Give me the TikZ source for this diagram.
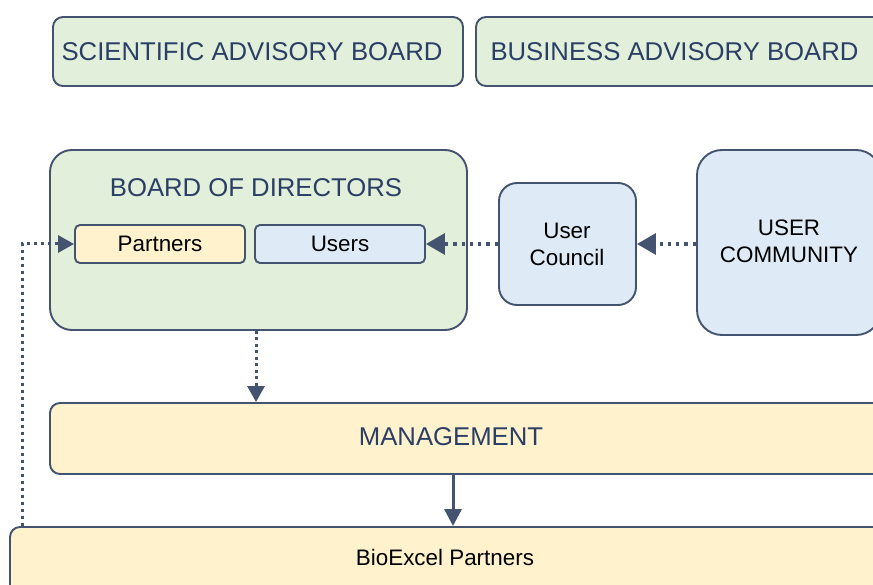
\documentclass[tikz,border=0pt]{standalone}
\usepackage{fontspec}
\setmainfont{Liberation Sans}
\usetikzlibrary{arrows.meta}
\definecolor{edge}{HTML}{44536F}
\definecolor{navy}{HTML}{2B3F66}
\definecolor{gfill}{HTML}{E2EFDA}
\definecolor{yfill}{HTML}{FFF2CC}
\definecolor{bfill}{HTML}{DEEAF6}
\tikzset{
  box/.style={draw=edge, line width=1.9pt, rectangle, inner sep=0pt},
  bigtxt/.style={text=navy, font=\fontsize{25.7}{31}\selectfont, inner sep=0pt},
  smtxt/.style={text=black, font=\fontsize{22.4}{27}\selectfont, inner sep=0pt, align=center},
  dotline/.style={draw=edge, line width=3.3pt, dash pattern=on 3.3pt off 5pt},
  dotlinesm/.style={draw=edge, line width=3pt, dash pattern=on 3pt off 4pt},
  bigtip/.style={-{Triangle[length=19pt,width=21pt]}},
  smtip/.style={-{Triangle[length=16pt,width=17pt]}},
  solidarrow/.style={draw=edge, line width=3pt, -{Triangle[length=17pt,width=17pt]}},
}
\begin{document}
\begin{tikzpicture}[x=1pt,y=-1pt]
\useasboundingbox (0,0) rectangle (873,585);
% top boards
\node[box, fill=gfill, rounded corners=10pt, minimum width=410pt, minimum height=69pt] (sab) at (258,51.5) {};
\node[bigtxt] (sabt) at (252,51.5) {SCIENTIFIC ADVISORY BOARD};
\node[box, fill=gfill, rounded corners=10pt, minimum width=414pt, minimum height=69pt] (bab) at (683,51.5) {};
\node[bigtxt] (babt) at (674.5,51.5) {BUSINESS ADVISORY BOARD};
% board of directors
\node[box, fill=gfill, rounded corners=22pt, minimum width=417pt, minimum height=180pt] (bod) at (258.5,240) {};
\node[bigtxt] (bodt) at (256,188) {BOARD OF DIRECTORS};
\node[box, fill=yfill, rounded corners=5pt, minimum width=170pt, minimum height=38pt] (partners) at (160,244) {};
\node[smtxt] (partnerst) at (partners.center) {Partners};
\node[box, fill=bfill, rounded corners=5pt, minimum width=170pt, minimum height=38pt] (users) at (340,244) {};
\node[smtxt] (userst) at (users.center) {Users};
% user council and community
\node[box, fill=bfill, rounded corners=18pt, minimum width=137pt, minimum height=122pt] (council) at (567.5,244) {};
\node[smtxt] (councilt) at (567,244.5) {User\\Council};
\node[box, fill=bfill, rounded corners=25pt, minimum width=184pt, minimum height=185pt] (comm) at (789,242.5) {};
\node[smtxt] (commt) at (789,241.5) {USER\\COMMUNITY};
% management and partners
\node[box, fill=yfill, rounded corners=10pt, minimum width=850pt, minimum height=71pt] (mgmt) at (475,438.5) {};
\node[bigtxt] (mgmtt) at (451,437) {MANAGEMENT};
\node[box, fill=yfill, rounded corners=10pt, minimum width=890pt, minimum height=80pt] (bio) at (455,567) {};
\node[smtxt] (biot) at (445,557) {BioExcel Partners};
% connectors
\coordinate (corner) at (22,243);
\coordinate (downx) at (256,0);
\coordinate (solidx) at (453,0);
\draw[dotline, bigtip] (comm.west |- council.east) -- (council.east);
\draw[dotline, bigtip] (council.west) -- (users.east);
\draw[dotlinesm, smtip] (bio.north -| corner) |- (partners.west);
\draw[draw=edge, line width=3pt, dash pattern=on 3pt off 3.5pt, smtip] (bod.south -| downx) -- (mgmt.north -| downx);
\draw[solidarrow] (mgmt.south -| solidx) -- (bio.north -| solidx);
\end{tikzpicture}
\end{document}
